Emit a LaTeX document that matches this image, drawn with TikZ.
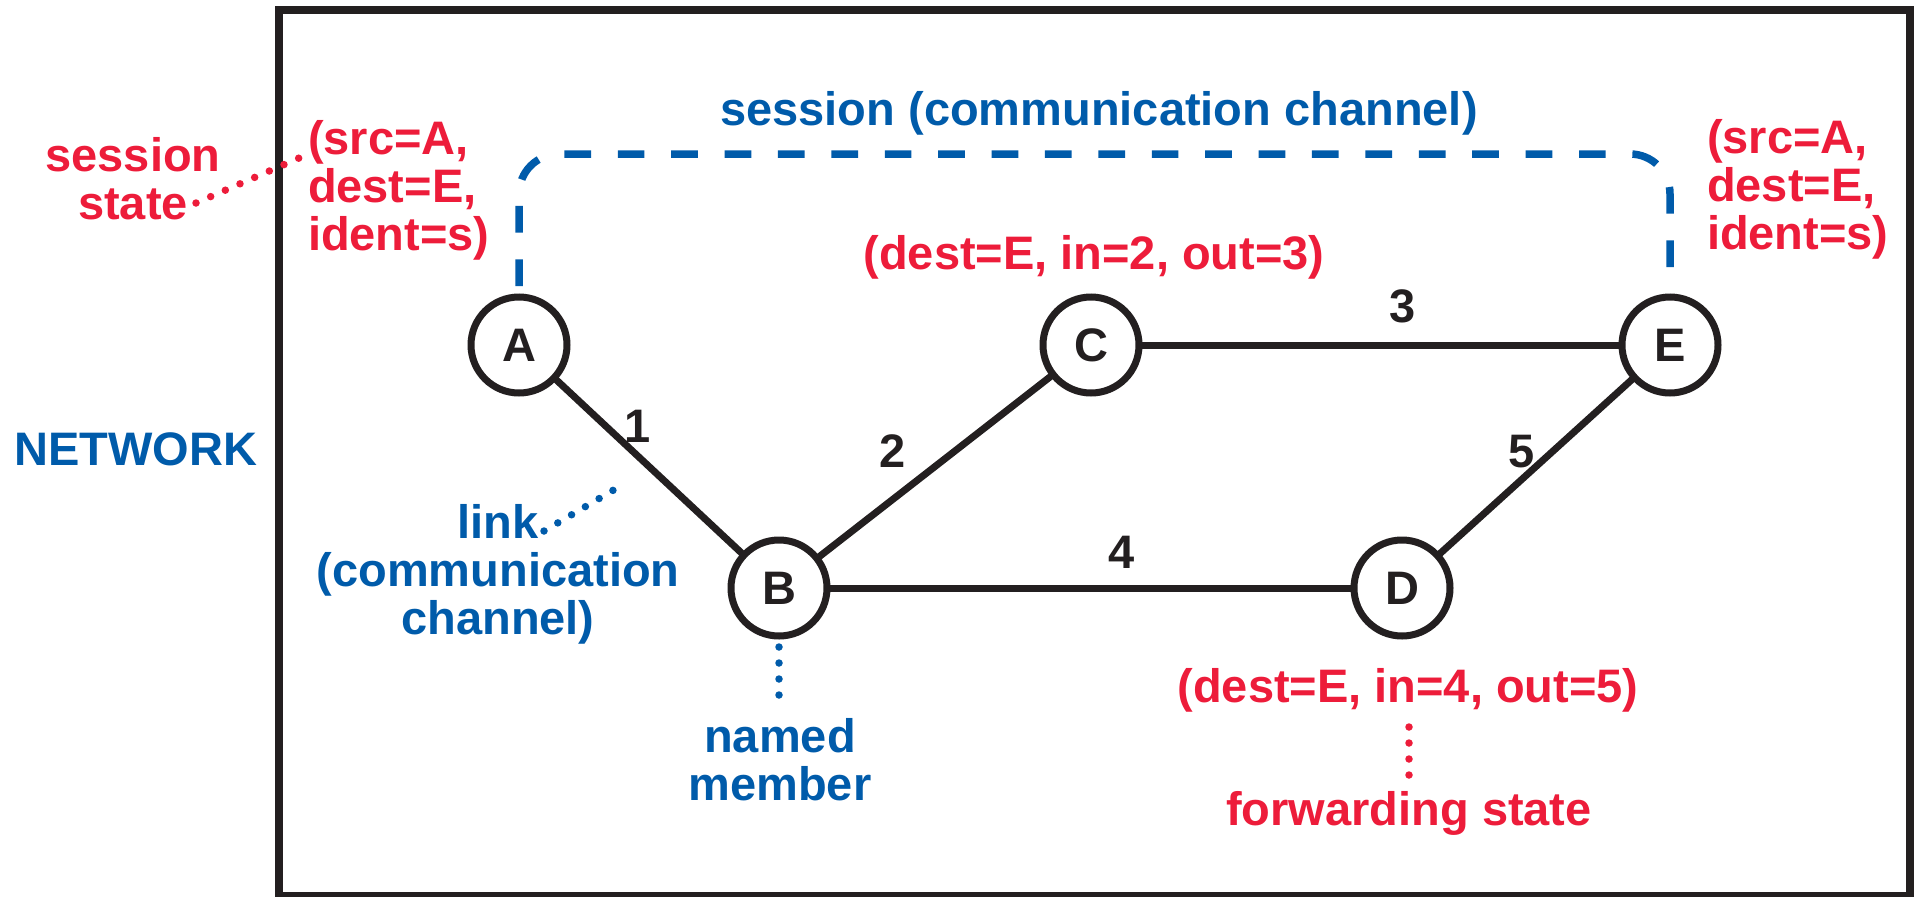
\documentclass[tikz,border=0pt]{standalone}
\usepackage{fontspec}
\setmainfont{Liberation Sans}

\definecolor{netred}{RGB}{237,28,58}
\definecolor{netblue}{RGB}{0,91,170}
\definecolor{netblack}{RGB}{35,31,32}

% stacked lines whose base anchor is the first line's baseline
\newcommand{\stackL}[1]{\begin{tabular}[t]{@{}l@{}}#1\end{tabular}}
\newcommand{\stackC}[1]{\begin{tabular}[t]{@{}c@{}}#1\end{tabular}}

\begin{document}
\begin{tikzpicture}[x=1pt,y=-1pt,
  every node/.style={font=\fontsize{47}{48}\selectfont\bfseries, inner sep=0pt, outer sep=0pt},
  member/.style={circle, draw=netblack, line width=7pt, minimum size=96pt, text=netblack},
  linkline/.style={draw=netblack, line width=7pt},
  linklabel/.style={anchor=base, text=netblack},
  redtext/.style={text=netred},
  bluetext/.style={text=netblue},
  reddots/.style={draw=netred, line width=7.5pt, line cap=round, dash pattern=on 0pt off 16pt},
  bluedots/.style={draw=netblue, line width=7.5pt, line cap=round, dash pattern=on 0pt off 16pt},
  sessionline/.style={draw=netblue, line width=7.5pt, dash pattern=on 26.7pt off 26.7pt, rounded corners=40pt},
  framebox/.style={draw=netblack, line width=8pt}
]
\useasboundingbox (0,0) rectangle (1920,897);

% network frame
\draw[framebox] (279,10) rectangle (1910,896);

% members
\node[member] (A) at (519,345) {A};
\node[member] (B) at (779,588) {B};
\node[member] (C) at (1091,345) {C};
\node[member] (D) at (1402,588) {D};
\node[member] (E) at (1670,345) {E};

% links
\draw[linkline] (A) -- (B);
\draw[linkline] (B) -- (C);
\draw[linkline] (C) -- (E);
\draw[linkline] (B) -- (D);
\draw[linkline] (D) -- (E);

% link numbers
\node[linklabel] (l1) at (638,442) {1};
\node[linklabel] (l2) at (893,467) {2};
\node[linklabel] (l3) at (1403,322) {3};
\node[linklabel] (l4) at (1122,568) {4};
\node[linklabel] (l5) at (1522,467) {5};

% session between A and E
\coordinate (sA) at (519,286);
\coordinate (sE) at (1670,286);
\draw[sessionline] (sA) -- (519,154) -- (1670,154) -- (sE);
\node[bluetext, anchor=base] (session) at (1099,125) {session (communication channel)};

% session state at the end points
\node[redtext, anchor=base west] (stA) at (308,154) {\stackL{(src=A,\\dest=E,\\ident=s)}};
\node[redtext, anchor=base west] (stE) at (1707,153) {\stackL{(src=A,\\dest=E,\\ident=s)}};
\node[redtext, anchor=base] (sstate) at (133,171) {\stackC{session\\state}};
\coordinate (ss1) at (196,203);
\coordinate (ss2) at (306,155);
\draw[reddots] (ss1) -- (ss2);

% forwarding state
\node[redtext, anchor=base] (fwC) at (1094,269) {(dest=E, in=2, out=3)};
\node[redtext, anchor=base] (fwD) at (1408,702) {(dest=E, in=4, out=5)};
\node[redtext, anchor=base] (fwlabel) at (1409,825) {forwarding state};
\coordinate (fw1) at (1409,727);
\coordinate (fw2) at (1409,778);
\draw[reddots] (fw1) -- (fw2);

% link annotation
\node[bluetext, anchor=base] (linktxt) at (498,538) {\stackC{link\\(communication\\channel)}};
\coordinate (lk1) at (544,531);
\coordinate (lk2) at (617,488);
\draw[bluedots] (lk1) -- (lk2);

% named member annotation
\node[bluetext, anchor=base] (named) at (780,752) {\stackC{named\\member}};
\coordinate (nm1) at (779,647);
\coordinate (nm2) at (779,711);
\draw[bluedots] (nm1) -- (nm2);

% network label
\node[bluetext, anchor=base] (network) at (136,465) {NETWORK};
\end{tikzpicture}
\end{document}
